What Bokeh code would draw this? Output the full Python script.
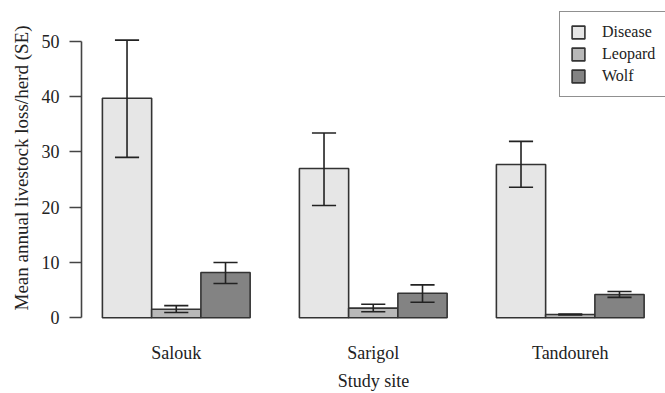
from bokeh.plotting import figure
from bokeh.models import Range1d, FixedTicker, Legend, LegendItem, ColumnDataSource
from bokeh.embed import file_html
from bokeh.resources import INLINE

sites = ["Salouk", "Sarigol", "Tandoureh"]
series = ["Disease", "Leopard", "Wolf"]
disease = [39.7, 27.0, 27.7]
disease_lo = [29.0, 20.3, 23.6]
disease_hi = [50.2, 33.4, 31.9]
leopard = [1.55, 1.75, 0.6]
leopard_lo = [0.95, 1.08, 0.5]
leopard_hi = [2.2, 2.45, 0.7]
wolf = [8.2, 4.45, 4.2]
wolf_lo = [6.2, 2.8, 3.7]
wolf_hi = [10.0, 5.95, 4.75]
y_ticks = [0, 10, 20, 30, 40, 50]

colors = ["#e6e6e6", "#b8b8b8", "#838383"]
FONT = "'Liberation Serif'"

p = figure(width=665, height=393, output_backend="svg", toolbar_location=None,
           x_range=Range1d(0.5756, 12.434), y_range=Range1d(-1.392, 55.549),
           min_border_left=81, min_border_right=0, min_border_top=10, min_border_bottom=68)
p.outline_line_color = None
p.xgrid.visible = False
p.ygrid.visible = False

vals = [disease, leopard, wolf]
los = [disease_lo, leopard_lo, wolf_lo]
his = [disease_hi, leopard_hi, wolf_hi]
items = []
for j, name in enumerate(series):
    xs = [1 + 4 * i + j + 0.5 for i in range(len(sites))]
    src = ColumnDataSource(dict(x=xs, top=vals[j], lo=los[j], hi=his[j],
                                x0=[x - 0.245 for x in xs], x1=[x + 0.245 for x in xs]))
    r = p.vbar(x="x", top="top", bottom=0, width=1.0, source=src,
               fill_color=colors[j], line_color="#333333", line_width=1.6)
    p.segment(x0="x", y0="lo", x1="x", y1="hi", source=src, line_color="#222222", line_width=1.6)
    p.segment(x0="x0", y0="lo", x1="x1", y1="lo", source=src, line_color="#222222", line_width=1.6)
    p.segment(x0="x0", y0="hi", x1="x1", y1="hi", source=src, line_color="#222222", line_width=1.6)
    items.append(LegendItem(label=name, renderers=[r]))

# y axis
p.yaxis.ticker = FixedTicker(ticks=y_ticks)
p.yaxis.bounds = (0, 50)
p.yaxis.minor_tick_line_color = None
p.yaxis.major_tick_in = 0
p.yaxis.major_tick_out = 12
p.yaxis.major_label_standoff = 10
p.yaxis.axis_line_color = "#444444"
p.yaxis.axis_line_width = 1.6
p.yaxis.major_tick_line_color = "#444444"
p.yaxis.major_tick_line_width = 1.6
p.yaxis.major_label_text_font = FONT
p.yaxis.major_label_text_font_size = "18px"
p.yaxis.major_label_text_color = "#222222"
p.yaxis.axis_label = "Mean annual livestock loss/herd (SE)"
p.yaxis.axis_label_text_font = FONT
p.yaxis.axis_label_text_font_style = "normal"
p.yaxis.axis_label_text_font_size = "19px"
p.yaxis.axis_label_text_color = "#222222"
p.yaxis.axis_label_standoff = 7

# x axis
centers = [1 + 4 * i + 1.5 for i in range(len(sites))]
p.xaxis.ticker = FixedTicker(ticks=centers)
p.xaxis.major_label_overrides = {c: s for c, s in zip(centers, sites)}
p.xaxis.axis_line_color = None
p.xaxis.major_tick_line_color = None
p.xaxis.minor_tick_line_color = None
p.xaxis.major_tick_out = 0
p.xaxis.major_tick_in = 0
p.xaxis.major_label_standoff = 17
p.xaxis.major_label_text_font = FONT
p.xaxis.major_label_text_font_size = "18px"
p.xaxis.major_label_text_color = "#222222"
p.xaxis.axis_label = "Study site"
p.xaxis.axis_label_text_font = FONT
p.xaxis.axis_label_text_font_style = "normal"
p.xaxis.axis_label_text_font_size = "18px"
p.xaxis.axis_label_text_color = "#222222"
p.xaxis.axis_label_standoff = 5

legend = Legend(items=items, location=(478, 228), margin=0, padding=10,
                spacing=2, glyph_width=16, glyph_height=16, label_height=20,
                label_standoff=16, label_text_font=FONT, label_text_font_size="16px",
                label_text_color="#222222", border_line_color="#222222",
                border_line_width=1.2, background_fill_alpha=1.0)
p.add_layout(legend)

open("out.html", "w").write(file_html(p, INLINE))
